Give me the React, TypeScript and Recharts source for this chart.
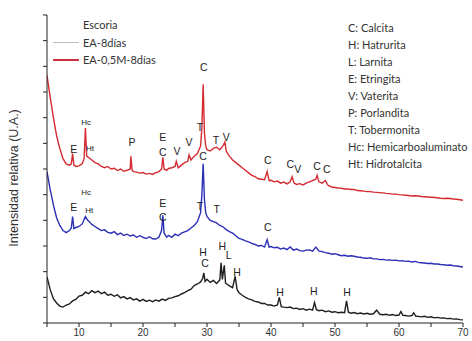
import { ComposedChart, Line, Scatter, XAxis, YAxis } from 'recharts'

// 2θ positions and relative intensity (arbitrary units)
const escoriaX = [5, 5.5, 6, 6.5, 7, 7.5, 8, 8.5, 9, 9.5, 10, 10.5, 11, 11.5, 12, 12.5, 13, 13.5, 14, 14.5, 15, 15.5, 16, 16.5, 17, 17.5, 18, 18.5, 19, 19.5, 20, 20.5, 21, 21.5, 22, 22.5, 23, 23.5, 24, 24.5, 25, 25.5, 26, 26.5, 27, 27.5, 28, 28.5, 29, 29.3, 29.5, 29.7, 30, 30.5, 31, 31.5, 32, 32.2, 32.4, 32.7, 32.9, 33.5, 34, 34.4, 34.7, 35, 35.5, 36, 36.5, 37, 37.5, 38, 38.5, 39, 39.5, 40, 40.5, 41, 41.3, 41.6, 42, 42.5, 43, 43.5, 44, 44.5, 45, 45.5, 46, 46.5, 46.8, 47.1, 47.5, 48, 48.5, 49, 49.5, 50, 50.5, 51, 51.5, 51.8, 52.1, 52.5, 53, 53.5, 54, 54.5, 55, 55.5, 56, 56.5, 57, 57.5, 58, 58.5, 59, 59.5, 60, 60.3, 60.6, 61, 61.5, 62, 62.3, 62.6, 63, 63.5, 64, 64.5, 65, 65.5, 66, 66.5, 67, 67.5, 68, 68.5, 69, 69.5, 70]
const escoriaY = [1.8, 1.3, 0.95, 0.78, 0.66, 0.62, 0.7, 0.74, 0.86, 0.92, 1.05, 1.08, 1.2, 1.14, 1.26, 1.18, 1.24, 1.14, 1.2, 1.08, 1.12, 1.04, 1.1, 0.98, 1.03, 0.94, 0.99, 0.9, 0.94, 0.85, 0.92, 0.84, 0.89, 0.83, 0.9, 0.85, 0.93, 0.88, 0.96, 0.98, 1.03, 1.06, 1.13, 1.18, 1.26, 1.32, 1.46, 1.52, 1.6, 1.72, 1.95, 1.62, 1.7, 1.58, 1.66, 1.54, 1.68, 2.35, 1.7, 2.25, 1.55, 1.45, 1.38, 1.82, 1.3, 1.18, 1.08, 1.0, 0.94, 0.9, 0.84, 0.82, 0.76, 0.76, 0.7, 0.7, 0.66, 0.7, 1.0, 0.64, 0.62, 0.6, 0.62, 0.56, 0.58, 0.53, 0.56, 0.5, 0.54, 0.5, 0.8, 0.52, 0.48, 0.5, 0.44, 0.47, 0.42, 0.44, 0.4, 0.42, 0.4, 0.86, 0.42, 0.38, 0.41, 0.36, 0.39, 0.35, 0.38, 0.34, 0.36, 0.5, 0.34, 0.32, 0.34, 0.3, 0.33, 0.29, 0.31, 0.45, 0.3, 0.29, 0.27, 0.29, 0.4, 0.27, 0.26, 0.24, 0.26, 0.22, 0.24, 0.2, 0.22, 0.19, 0.2, 0.17, 0.18, 0.15, 0.16, 0.13, 0.12]

const ea8X = [5, 5.5, 6, 6.5, 7, 7.5, 8, 8.5, 8.8, 9, 9.2, 9.5, 10, 10.5, 11, 11.3, 11.6, 12, 12.5, 13, 13.5, 14, 14.5, 15, 15.5, 16, 16.5, 17, 17.5, 18, 18.5, 19, 19.5, 20, 20.5, 21, 21.5, 22, 22.5, 22.9, 23.1, 23.3, 23.7, 24, 24.5, 25, 25.5, 26, 26.5, 27, 27.5, 28, 28.5, 29, 29.2, 29.4, 29.6, 29.8, 30, 30.5, 31, 31.5, 32, 32.5, 33, 33.5, 34, 34.5, 35, 35.5, 36, 36.5, 37, 37.5, 38, 38.5, 39, 39.4, 39.7, 40, 40.5, 41, 41.5, 42, 42.5, 43, 43.5, 44, 44.5, 45, 45.5, 46, 46.5, 47, 47.5, 48, 48.5, 49, 49.5, 50, 50.5, 51, 51.5, 52, 52.5, 53, 53.5, 54, 54.5, 55, 55.5, 56, 56.5, 57, 57.5, 58, 58.5, 59, 59.5, 60, 60.5, 61, 61.5, 62, 62.5, 63, 63.5, 64, 64.5, 65, 65.5, 66, 66.5, 67, 67.5, 68, 68.5, 69, 69.5, 70]
const ea8Y = [5.9, 5.2, 4.6, 4.1, 3.8, 3.6, 3.52, 3.6, 3.7, 4.15, 3.68, 3.72, 3.76, 3.86, 4.15, 4.02, 3.95, 3.84, 3.76, 3.68, 3.6, 3.63, 3.53, 3.5, 3.56, 3.44, 3.5, 3.41, 3.46, 3.39, 3.43, 3.34, 3.4, 3.34, 3.29, 3.36, 3.28, 3.27, 3.35, 3.6, 4.2, 3.5, 3.34, 3.41, 3.34, 3.46, 3.4, 3.5, 3.55, 3.6, 3.7, 3.8, 3.95, 4.3, 5.0, 6.2, 4.8, 4.3, 4.15, 4.0, 3.95, 3.9, 3.8, 3.75, 3.64, 3.56, 3.5, 3.4, 3.3, 3.26, 3.2, 3.16, 3.1, 3.06, 3.0, 3.02, 2.96, 3.25, 2.96, 2.98, 2.93, 2.95, 2.88, 2.92, 2.86, 2.96, 2.84, 2.88, 2.82, 2.8, 2.84, 2.85, 2.8, 2.96, 2.8, 2.78, 2.74, 2.72, 2.68, 2.7, 2.66, 2.62, 2.64, 2.6, 2.62, 2.6, 2.57, 2.56, 2.53, 2.52, 2.54, 2.5, 2.5, 2.47, 2.48, 2.45, 2.46, 2.44, 2.45, 2.42, 2.43, 2.4, 2.41, 2.38, 2.4, 2.36, 2.35, 2.34, 2.32, 2.33, 2.3, 2.3, 2.28, 2.27, 2.25, 2.26, 2.23, 2.22, 2.2, 2.18, 2.15]

const ea05X = [5, 5.5, 6, 6.5, 7, 7.5, 8, 8.5, 8.8, 9, 9.2, 9.5, 10, 10.5, 10.8, 11, 11.2, 11.5, 12, 12.5, 13, 13.5, 14, 14.5, 15, 15.5, 16, 16.5, 17, 17.5, 18, 18.1, 18.3, 18.5, 19, 19.5, 20, 20.5, 21, 21.5, 22, 22.5, 22.9, 23.1, 23.3, 23.7, 24, 24.5, 25, 25.2, 25.5, 26, 26.5, 27, 27.2, 27.5, 28, 28.5, 29, 29.2, 29.4, 29.6, 29.8, 30, 30.5, 31, 31.5, 32, 32.5, 32.8, 33, 33.5, 34, 34.5, 35, 35.5, 36, 36.5, 37, 37.5, 38, 38.5, 39, 39.4, 39.7, 40, 40.5, 41, 41.5, 42, 42.5, 43, 43.3, 43.6, 44, 44.5, 45, 45.5, 46, 46.5, 47, 47.2, 47.5, 48, 48.5, 48.8, 49, 49.5, 50, 50.5, 51, 51.5, 52, 52.5, 53, 53.5, 54, 54.5, 55, 55.5, 56, 56.5, 57, 57.5, 58, 58.5, 59, 59.5, 60, 60.5, 61, 61.5, 62, 62.5, 63, 63.5, 64, 64.5, 65, 65.5, 66, 66.5, 67, 67.5, 68, 68.5, 69, 69.5, 70]
const ea05Y = [9.65, 8.8, 8.0, 7.3, 6.8, 6.4, 6.2, 6.15, 6.2, 6.6, 6.15, 6.1, 6.12, 6.2, 6.4, 7.6, 6.5, 6.45, 6.35, 6.25, 6.2, 6.1, 6.05, 6.1, 6.0, 6.03, 5.94, 6.0, 5.91, 5.95, 6.0, 6.5, 5.95, 5.9, 5.88, 5.84, 5.86, 5.8, 5.83, 5.79, 5.86, 5.9, 6.0, 6.45, 6.0, 5.95, 6.02, 6.05, 6.1, 6.3, 6.05, 6.15, 6.25, 6.3, 6.55, 6.35, 6.5, 6.6, 6.9, 7.6, 9.3, 7.4, 6.9, 6.75, 6.7, 6.8, 6.85, 6.75, 6.9, 7.05, 6.7, 6.5, 6.35, 6.25, 6.15, 6.05, 5.95, 5.85, 5.75, 5.7, 5.62, 5.6, 5.58, 5.9, 5.55, 5.56, 5.5, 5.53, 5.45, 5.49, 5.42, 5.5, 5.7, 5.45, 5.4, 5.43, 5.38, 5.45, 5.5, 5.55, 5.6, 5.75, 5.5, 5.45, 5.55, 5.4, 5.35, 5.3, 5.28, 5.26, 5.25, 5.22, 5.22, 5.2, 5.2, 5.16, 5.15, 5.14, 5.12, 5.12, 5.1, 5.09, 5.08, 5.07, 5.05, 5.04, 5.02, 5.02, 5.0, 4.99, 4.98, 4.97, 4.95, 4.96, 4.95, 4.93, 4.92, 4.91, 4.9, 4.89, 4.88, 4.86, 4.85, 4.86, 4.85, 4.83, 4.82, 4.8, 4.78]

// peak labels: 2θ, height, phase letter
const peakX = [9.2, 11.1, 11.7, 18.3, 23.1, 23.1, 25.3, 27.2, 28.9, 29.5, 29.4, 31.4, 33.0, 39.5, 43.0, 44.2, 47.2, 48.7, 9.2, 11.1, 11.6, 23.1, 23.1, 28.9, 31.5, 39.5, 29.4, 29.7, 32.4, 33.4, 34.7, 41.4, 46.7, 51.9]
const peakY = [6.73, 7.78, 6.77, 7.0, 7.2, 6.62, 6.65, 7.0, 7.59, 9.92, 6.46, 7.08, 7.2, 6.3, 6.15, 5.95, 6.07, 5.95, 4.47, 5.06, 4.36, 4.62, 4.07, 4.5, 4.4, 3.7, 2.72, 2.28, 2.95, 2.6, 1.95, 1.17, 1.2, 1.17]
const peakText = ['E', 'Hc', 'Ht', 'P', 'E', 'C', 'V', 'V', 'T', 'C', 'C', 'T', 'V', 'C', 'C', 'V', 'C', 'C', 'E', 'Hc', 'Ht', 'E', 'C', 'T', 'T', 'C', 'H', 'C', 'H', 'L', 'H', 'H', 'H', 'H']

const phases = ['C: Calcita', 'H: Hatrurita', 'L: Larnita', 'E: Etringita', 'V: Vaterita', 'P: Porlandita', 'T: Tobermonita', 'Hc: Hemicarboaluminato', 'Ht: Hidrotalcita']

const xTicks = [5, 10, 15, 20, 25, 30, 35, 40, 45, 50, 55, 60, 65, 70]
const yTicks = [0, 1, 2, 3, 4, 5, 6, 7, 8, 9, 10, 11, 12]

const toPoints = (xs: number[], ys: number[]) => xs.map((x, i) => ({ x, y: ys[i] }))

const escoria = toPoints(escoriaX, escoriaY)
const ea8 = toPoints(ea8X, ea8Y)
const ea05 = toPoints(ea05X, ea05Y)
const peaks = peakX.map((x, i) => ({ x, y: peakY[i], t: peakText[i] }))

const legendItems = [
  { name: 'Escoria', color: 'transparent' },
  { name: 'EA-8días', color: '#bdbdbd' },
  { name: 'EA-0,5M-8días', color: '#c8323a' },
]

const PeakLabel = (props: any) => {
  const small = props.payload.t.length > 1
  return (
    <text
      x={props.cx}
      y={props.cy}
      textAnchor="middle"
      dominantBaseline="middle"
      fontSize={small ? 8 : 10.5}
      fontFamily="Liberation Sans, Arial, sans-serif"
      style={{ fill: '#222', stroke: 'none' }}
    >
      {props.payload.t}
    </text>
  )
}

export default function App() {
  return (
    <div style={{ position: 'absolute', left: 0, top: 0, width: 472, height: 341, background: '#fff' }}>
      <ComposedChart width={472} height={341} margin={{ top: 15, right: 9, bottom: 0, left: 0 }}>
        <XAxis
          dataKey="x"
          type="number"
          domain={[5, 70]}
          ticks={xTicks}
          height={18}
          allowDataOverflow
          tickSize={4}
          stroke="#222"
          tick={{ fontSize: 10, fill: '#333', fontFamily: 'Liberation Sans, Arial, sans-serif' }}
          tickFormatter={(v: number) => (v % 10 === 0 ? String(v) : '')}
        />
        <YAxis
          type="number"
          domain={[0, 12]}
          ticks={yTicks}
          width={47}
          tickSize={4}
          stroke="#222"
          tickFormatter={() => ''}
          allowDataOverflow
        />
        <Line data={escoria} dataKey="y" name="Escoria" stroke="#1e1e1e" strokeWidth={1.4} dot={false} isAnimationActive={false} />
        <Line data={ea8} dataKey="y" name="EA-8días" stroke="#2a2fb5" strokeWidth={1.4} dot={false} isAnimationActive={false} />
        <Line data={ea05} dataKey="y" name="EA-0,5M-8días" stroke="#d42b31" strokeWidth={1.4} dot={false} isAnimationActive={false} />
        <Scatter data={peaks} dataKey="y" shape={PeakLabel} isAnimationActive={false} legendType="none" />
      </ComposedChart>
      <div style={{ position: 'absolute', left: 53, top: 16, fontFamily: 'Lato, sans-serif', fontSize: 11, color: '#333' }}>
        {legendItems.map((it) => (
          <div key={it.name} style={{ display: 'flex', alignItems: 'center', height: 17.5 }}>
            <span style={{ display: 'inline-block', width: 26, height: 1.5, background: it.color, marginRight: 4 }} />
            <span>{it.name}</span>
          </div>
        ))}
      </div>
      <div
        style={{
          position: 'absolute',
          left: 14,
          top: 178,
          transform: 'translate(-50%, -50%) rotate(-90deg)',
          whiteSpace: 'nowrap',
          fontFamily: 'Liberation Sans, Arial, sans-serif',
          fontSize: 12.5,
          color: '#333',
        }}
      >
        Intensidad relativa (U.A.)
      </div>
      <div style={{ position: 'absolute', left: 348, top: 19, fontFamily: 'Lato, sans-serif', fontSize: 11, color: '#333' }}>
        {phases.map((p) => (
          <div key={p} style={{ height: 17, lineHeight: '17px', whiteSpace: 'nowrap' }}>
            {p}
          </div>
        ))}
      </div>
    </div>
  )
}
